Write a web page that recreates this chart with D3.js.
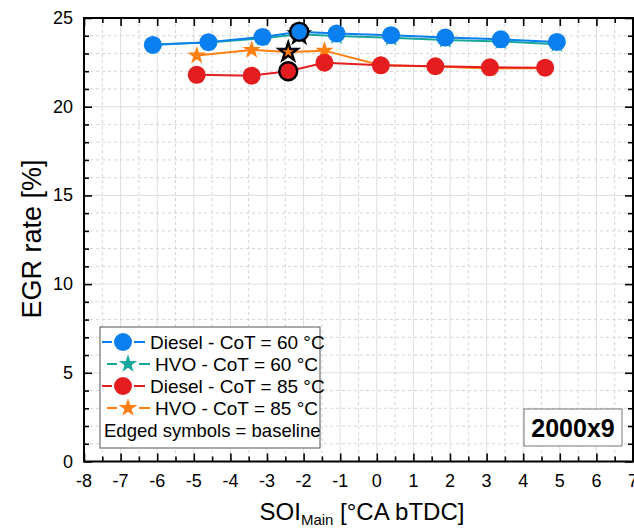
<!DOCTYPE html>
<html>
<head>
<meta charset="utf-8">
<script src="https://cdn.jsdelivr.net/npm/d3@7/dist/d3.min.js"></script>
<style>
  body { margin: 0; background: #fff; }
  svg { display: block; font-family: "Liberation Sans", Arial, sans-serif; }
</style>
</head>
<body>
<svg width="634" height="529"></svg>
<script>
// data
var dieselSOI60 = [-6.12, -4.60, -3.12, -2.12, -1.10, 0.39, 1.87, 3.39, 4.92];
var diesel60 = [23.48, 23.64, 23.93, 24.22, 24.12, 24.03, 23.90, 23.80, 23.65];
var hvoSOI60 = [-6.12, -4.60, -3.12, -2.12, -1.10, 0.39, 1.87, 3.39, 4.92];
var hvo60 = [23.50, 23.62, 23.86, 24.08, 23.98, 23.88, 23.76, 23.68, 23.52];
var dieselSOI85 = [-4.92, -3.42, -2.42, -1.43, 0.11, 1.60, 3.09, 4.60];
var diesel85 = [21.80, 21.75, 22.00, 22.48, 22.33, 22.28, 22.22, 22.20];
var hvoSOI85 = [-4.92, -3.42, -2.42, -1.43, 0.11, 1.60, 3.09, 4.60];
var hvo85 = [22.88, 23.20, 23.08, 23.16, 22.34, 22.27, 22.16, 22.17];

var seriesNames = ['Diesel - CoT = 60 °C', 'HVO - CoT = 60 °C', 'Diesel - CoT = 85 °C', 'HVO - CoT = 85 °C'];
var xTicks = d3.range(-8, 8, 1);
var yTicks = [0, 5, 10, 15, 20, 25];

// baseline point index for each series
var baselineIdx = [3, 3, 2, 2];

var series = [
  { name: seriesNames[0], xs: dieselSOI60, ys: diesel60, color: '#0a7ff0', shape: 'circle', base: baselineIdx[0], z: 1 },
  { name: seriesNames[1], xs: hvoSOI60, ys: hvo60, color: '#17a89b', shape: 'star', base: baselineIdx[1], z: 0 },
  { name: seriesNames[2], xs: dieselSOI85, ys: diesel85, color: '#e41e20', shape: 'circle', base: baselineIdx[2], z: 3 },
  { name: seriesNames[3], xs: hvoSOI85, ys: hvo85, color: '#ff7f10', shape: 'star', base: baselineIdx[3], z: 2 }
];

var svg = d3.select('svg');
var pLeft = 84, pRight = 633, pTop = 18, pBottom = 461.5;

var x = d3.scaleLinear().domain([-8, 7]).range([pLeft, pRight]);
var y = d3.scaleLinear().domain([0, 25]).range([pBottom, pTop]);

var circleSym = d3.symbol().type(d3.symbolCircle).size(Math.PI * 9 * 9);
var starSym = d3.symbol().type(d3.symbolStar).size(105);
function sym(shape) { return shape === 'circle' ? circleSym() : starSym(); }

// grid
var grid = svg.append('g');
grid.selectAll('.vminor')
  .data(d3.range(-7.5, 7, 1))
  .join('line')
  .attr('x1', d => x(d)).attr('x2', d => x(d))
  .attr('y1', pTop).attr('y2', pBottom)
  .attr('stroke', '#d4d4d4').attr('stroke-dasharray', '3,3');
grid.selectAll('.vmajor')
  .data(d3.range(-7, 7, 1))
  .join('line')
  .attr('x1', d => x(d)).attr('x2', d => x(d))
  .attr('y1', pTop).attr('y2', pBottom)
  .attr('stroke', '#dedede');
grid.selectAll('.hminor')
  .data(d3.range(1, 25, 1).filter(d => d % 5 !== 0))
  .join('line')
  .attr('x1', pLeft).attr('x2', pRight)
  .attr('y1', d => y(d)).attr('y2', d => y(d))
  .attr('stroke', '#d4d4d4').attr('stroke-dasharray', '3,3');
grid.selectAll('.hmajor')
  .data([5, 10, 15, 20])
  .join('line')
  .attr('x1', pLeft).attr('x2', pRight)
  .attr('y1', d => y(d)).attr('y2', d => y(d))
  .attr('stroke', '#dedede');

// axes (ticks inside)
var xMinor = d3.range(-7.5, 7, 1);
var yMinor = d3.range(1, 25, 1).filter(d => d % 5 !== 0);

function tickAxis(axis, vals, size) {
  return axis.tickValues(vals).tickSize(size).tickFormat('');
}

svg.append('g').attr('transform', 'translate(0,' + pBottom + ')')
  .call(tickAxis(d3.axisTop(x), xTicks, 8));
svg.append('g').attr('transform', 'translate(0,' + pBottom + ')')
  .call(tickAxis(d3.axisTop(x), xMinor, 5));
svg.append('g').attr('transform', 'translate(0,' + pTop + ')')
  .call(tickAxis(d3.axisBottom(x), xTicks, 8));
svg.append('g').attr('transform', 'translate(0,' + pTop + ')')
  .call(tickAxis(d3.axisBottom(x), xMinor, 5));
svg.append('g').attr('transform', 'translate(' + pLeft + ',0)')
  .call(tickAxis(d3.axisRight(y), yTicks, 8));
svg.append('g').attr('transform', 'translate(' + pLeft + ',0)')
  .call(tickAxis(d3.axisRight(y), yMinor, 5));
svg.append('g').attr('transform', 'translate(' + pRight + ',0)')
  .call(tickAxis(d3.axisLeft(y), yTicks, 8));
svg.append('g').attr('transform', 'translate(' + pRight + ',0)')
  .call(tickAxis(d3.axisLeft(y), yMinor, 5));
svg.selectAll('.domain').remove();
svg.selectAll('.tick line').attr('stroke', '#000').attr('stroke-width', 1.6);

// frame
svg.append('rect')
  .attr('x', pLeft).attr('y', pTop)
  .attr('width', pRight - pLeft).attr('height', pBottom - pTop)
  .attr('fill', 'none').attr('stroke', '#000').attr('stroke-width', 2);

// tick labels
svg.append('g').selectAll('text')
  .data(xTicks)
  .join('text')
  .attr('x', d => x(d)).attr('y', 487)
  .attr('text-anchor', 'middle')
  .style('font-size', '18px')
  .text(d => d);
svg.append('g').selectAll('text')
  .data(yTicks)
  .join('text')
  .attr('x', pLeft - 11).attr('y', d => y(d) + 6)
  .attr('text-anchor', 'end')
  .style('font-size', '18px')
  .text(d => d);

// axis titles
svg.append('text')
  .attr('transform', 'translate(41,239) rotate(-90)')
  .attr('text-anchor', 'middle')
  .style('font-size', '27px')
  .text('EGR rate [%]');
var xt = svg.append('text')
  .attr('x', 362).attr('y', 520)
  .attr('text-anchor', 'middle')
  .style('font-size', '24px');
xt.append('tspan').text('SOI');
xt.append('tspan').attr('dy', 5).style('font-size', '15px').text('Main');
xt.append('tspan').attr('dy', -5).text(' [°CA bTDC]');

// data, drawn back to front
var line = d3.line().x(d => x(d[0])).y(d => y(d[1]));
var plot = svg.append('g');
var drawOrder = series.slice().sort((a, b) => a.z - b.z);
drawOrder.forEach(function(s) {
  var pts = s.xs.map((v, i) => [v, s.ys[i]]);
  plot.append('path')
    .datum(pts)
    .attr('d', line)
    .attr('fill', 'none')
    .attr('stroke', s.color)
    .attr('stroke-width', 2);
  plot.selectAll(null)
    .data(pts.filter((p, i) => i !== s.base))
    .join('path')
    .attr('transform', d => 'translate(' + x(d[0]) + ',' + y(d[1]) + ')')
    .attr('d', sym(s.shape))
    .attr('fill', s.color);
});
// edged baseline symbols on top
drawOrder.forEach(function(s) {
  plot.append('path')
    .attr('transform', 'translate(' + x(s.xs[s.base]) + ',' + y(s.ys[s.base]) + ')')
    .attr('d', sym(s.shape))
    .attr('fill', s.color)
    .attr('stroke', '#000')
    .attr('stroke-width', 2.4);
});

// legend
var legend = svg.append('g');
legend.append('rect')
  .attr('x', 100).attr('y', 327).attr('width', 220).attr('height', 121)
  .attr('fill', '#fff').attr('stroke', '#555').attr('stroke-width', 1);

series.forEach(function(s, i) {
  var cy = 342 + i * 22;
  var off = s.shape === 'star' ? 5 : 0;
  var x0 = 102 + off, mx = 123 + off;
  legend.append('line')
    .attr('x1', x0).attr('x2', x0 + 43).attr('y1', cy).attr('y2', cy)
    .attr('stroke', s.color).attr('stroke-width', 2);
  legend.append('rect')
    .attr('x', mx - 11).attr('y', cy - 3).attr('width', 22).attr('height', 6)
    .attr('fill', '#fff');
  legend.append('path')
    .attr('transform', 'translate(' + mx + ',' + cy + ')')
    .attr('d', sym(s.shape))
    .attr('fill', s.color);
  legend.append('text')
    .attr('x', 150 + off).attr('y', cy + 7)
    .style('font-size', '19px')
    .text(s.name);
});
legend.append('text')
  .attr('x', 104).attr('y', 437)
  .style('font-size', '18.5px')
  .text('Edged symbols = baseline');

// operating point label
svg.append('rect')
  .attr('x', 524).attr('y', 409).attr('width', 98).attr('height', 37)
  .attr('fill', '#fff').attr('stroke', '#777').attr('stroke-width', 1);
svg.append('text')
  .attr('x', 573).attr('y', 437)
  .attr('text-anchor', 'middle')
  .style('font-size', '25px').style('font-weight', 'bold')
  .text('2000x9');
</script>
</body>
</html>
